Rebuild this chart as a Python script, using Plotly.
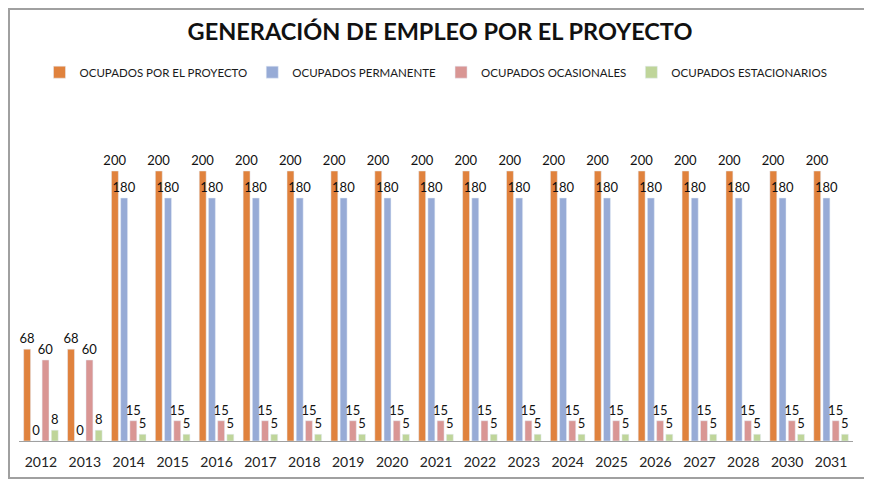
import plotly.graph_objects as go

years = ["2012", "2013", "2014", "2015", "2016", "2017", "2018", "2019", "2020",
         "2021", "2022", "2023", "2024", "2025", "2026", "2027", "2028", "2030", "2031"]
proyecto = [68, 68] + [200] * 17
permanente = [0, 0] + [180] * 17
ocasionales = [60, 60] + [15] * 17
estacionarios = [8, 8] + [5] * 17

series = [
    ("OCUPADOS POR EL PROYECTO", proyecto, "#E0823D"),
    ("OCUPADOS PERMANENTE", permanente, "#97ABD6"),
    ("OCUPADOS OCASIONALES", ocasionales, "#D99694"),
    ("OCUPADOS ESTACIONARIOS", estacionarios, "#BFD59A"),
]

FONT = "Lato"

fig = go.Figure()
for name, vals, color in series:
    fig.add_trace(go.Bar(
        x=years, y=vals, name=name, marker_color=color,
        text=vals, textposition="outside", constraintext="none",
        textfont=dict(family=FONT, size=13, color="#111"),
        cliponaxis=False))

# page body adds an 8px offset, so the figure is 8px smaller than the window
fig.update_layout(
    width=864, height=473,
    paper_bgcolor="white", plot_bgcolor="white",
    margin=dict(l=11, r=19, t=87, b=40),
    bargap=0.16, bargroupgap=0.25,
    title=dict(text="<b>GENERACIÓN DE EMPLEO POR EL PROYECTO</b>",
               x=0.5, xanchor="center", y=0.949, yanchor="middle",
               font=dict(family=FONT, size=23.5, color="#111")),
    legend=dict(orientation="h", x=0.5, xanchor="center", y=1.066, yanchor="middle",
                font=dict(family=FONT, size=11.5, color="#1a1a1a"),
                itemwidth=30, traceorder="normal"),
    showlegend=True,
)
fig.update_xaxes(type="category", showline=True, linecolor="#A0A0A0", linewidth=1,
                 ticks="", ticklabelstandoff=8,
                 tickfont=dict(family=FONT, size=14, color="#222"))
fig.update_yaxes(range=[0, 256.3], visible=False, showgrid=False)

# chart frame
fig.add_shape(type="rect", xref="paper", yref="paper",
              x0=-10 / 834, x1=851 / 834, y0=-37 / 346, y1=432 / 346,
              line=dict(color="#A0A0A0", width=2))

fig.write_html("out.html")
